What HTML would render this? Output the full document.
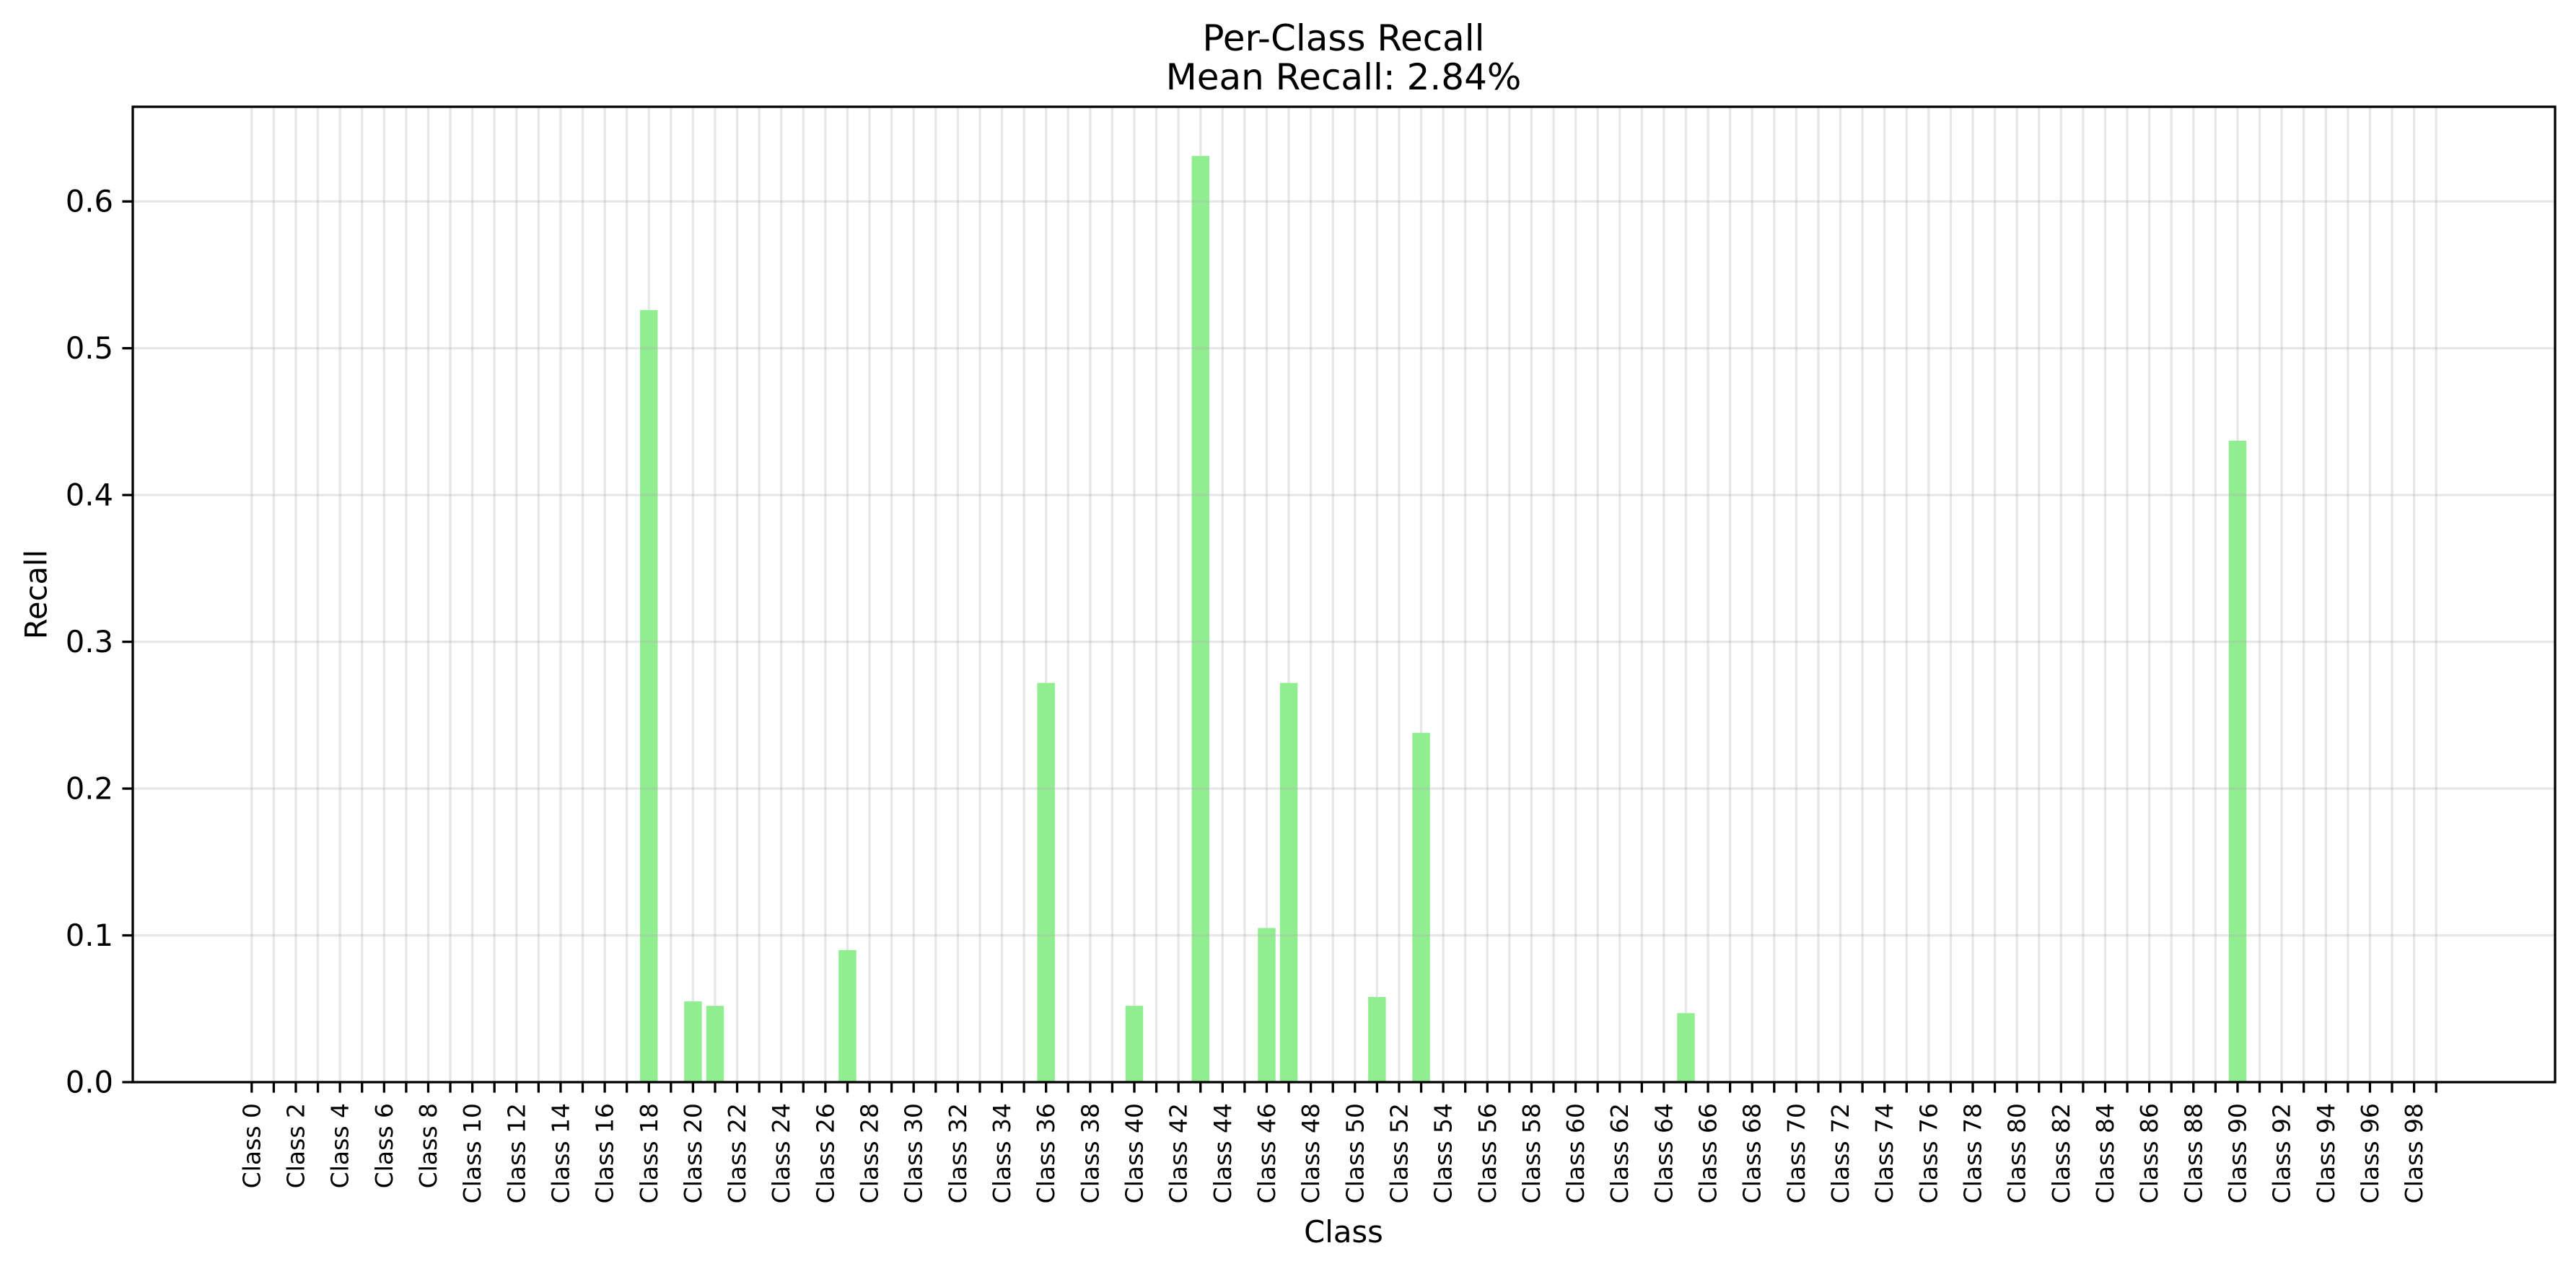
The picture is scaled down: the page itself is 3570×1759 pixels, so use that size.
<!DOCTYPE html>
<html><head><meta charset="utf-8"><style>html,body{margin:0;padding:0;background:#fff}svg{display:block}</style></head>
<body>
<svg id="chart" width="3570" height="1759" xmlns="http://www.w3.org/2000/svg" font-family="DejaVu Sans, Liberation Sans, sans-serif">
<rect width="3570" height="1759" fill="#fff"/>
<text x="1862" y="70" font-size="50" text-anchor="middle">Per-Class Recall</text>
<text x="1862" y="124" font-size="50" text-anchor="middle">Mean Recall: 2.84%</text>
<g id="grid"></g><g id="bars"></g><g id="axes"></g>
<text transform="translate(50,824) rotate(-90)" font-size="41.7" text-anchor="middle" dominant-baseline="central">Recall</text>
<text x="1862" y="1722" font-size="41.7" text-anchor="middle">Class</text>
</svg>
<script>
const numClasses = 100;
const barClasses = [18, 20, 21, 27, 36, 40, 43, 46, 47, 51, 53, 65, 90];
const barValues = [0.526, 0.055, 0.052, 0.090, 0.272, 0.052, 0.631, 0.105, 0.272, 0.058, 0.238, 0.047, 0.437];
const yTicks = [0.0, 0.1, 0.2, 0.3, 0.4, 0.5, 0.6];
const yTickLabels = ["0.0", "0.1", "0.2", "0.3", "0.4", "0.5", "0.6"];

const L = 184, R = 3541, T = 148, B = 1500;
const xMin = -5.39, xMax = 104.39, yMin = 0, yMax = 0.6645;
const xs = v => L + (v - xMin) / (xMax - xMin) * (R - L);
const ys = v => B - (v - yMin) / (yMax - yMin) * (B - T);
const NS = "http://www.w3.org/2000/svg";
function mk(tag, attrs, parent) {
  const e = document.createElementNS(NS, tag);
  for (const k in attrs) e.setAttribute(k, attrs[k]);
  parent.appendChild(e);
  return e;
}
const grid = document.getElementById('grid'), bars = document.getElementById('bars'), axes = document.getElementById('axes');

for (let i = 0; i < numClasses; i++) {
  const x = xs(i);
  const g = mk('line', {x1: x, x2: x, y1: T, y2: B, stroke: '#b0b0b0', 'stroke-opacity': 0.3, 'stroke-width': 3.3}, grid);
  
  
  const t = mk('line', {x1: x, x2: x, y1: B, y2: B + 14.6, stroke: '#000', 'stroke-width': 3.3}, axes);
  
  
  if (i % 2 === 0) {
    const lb = mk('text', {transform: `translate(${x},${B + 29}) rotate(-90)`, 'font-size': 33, 'text-anchor': 'end', 'dominant-baseline': 'central'}, axes);
    lb.textContent = 'Class ' + i;
    
    
  }
}
barClasses.forEach((c, i) => {
  const w = 0.8 * (xs(1) - xs(0));
  const y = ys(barValues[i]);
  const b = mk('rect', {x: xs(c) - w / 2, y: y, width: w, height: ys(0) - y, fill: '#90ee90'}, bars);
  
  
});
yTicks.forEach((v, i) => {
  const y = ys(v);
  const g = mk('line', {x1: L, x2: R, y1: y, y2: y, stroke: '#b0b0b0', 'stroke-opacity': 0.3, 'stroke-width': 3.3}, axes);
  
  
  const t = mk('line', {x1: L - 14.6, x2: L, y1: y, y2: y, stroke: '#000', 'stroke-width': 3.3}, axes);
  
  
  const lb = mk('text', {x: L - 27, y: y, 'font-size': 41.7, 'text-anchor': 'end', 'dominant-baseline': 'central'}, axes);
  lb.textContent = yTickLabels[i];
  
  
});
const frame = mk('rect', {x: L, y: T, width: R - L, height: B - T, fill: 'none', stroke: '#000', 'stroke-width': 3.3}, axes);


</script>
</body></html>
